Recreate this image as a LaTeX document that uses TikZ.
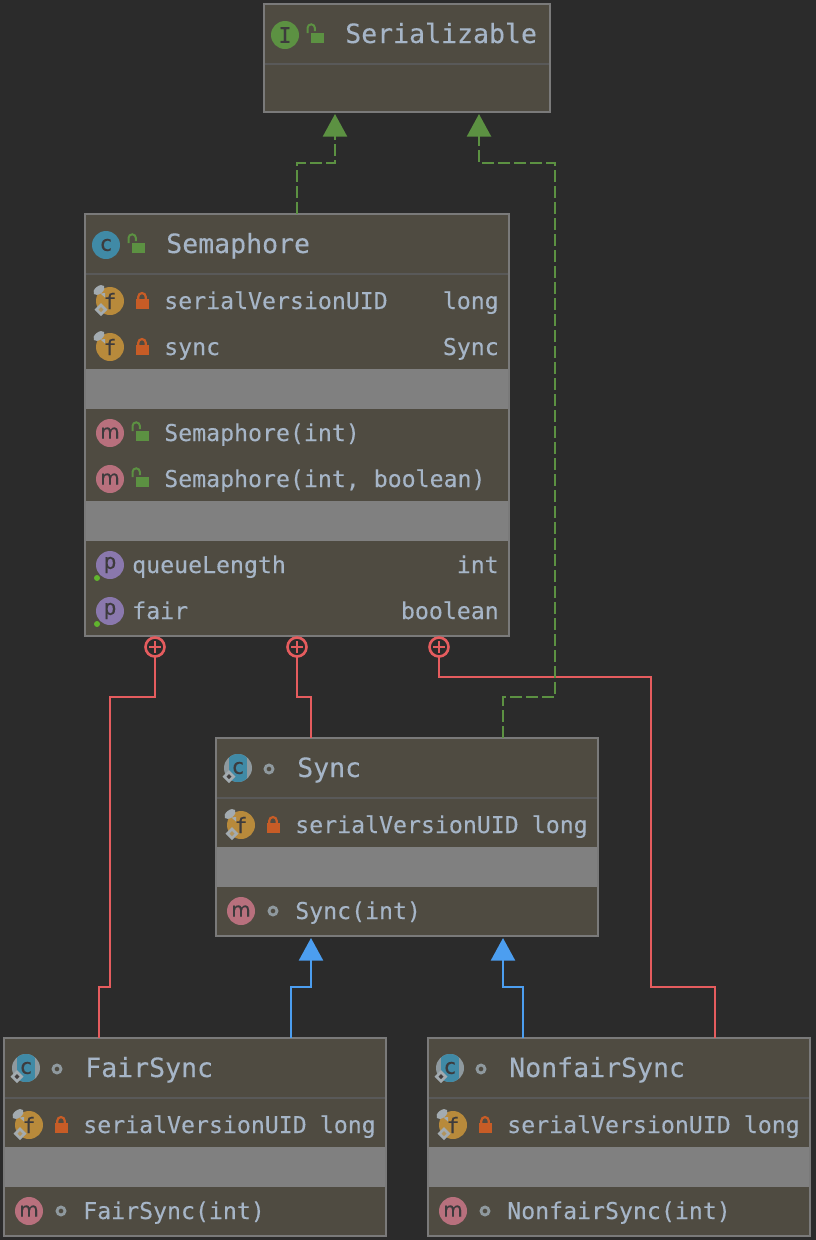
\documentclass[tikz,border=0pt]{standalone}
\usepackage{fontspec}
\setmonofont[FakeBold=0.25]{DejaVu Sans Mono}
\newfontfamily\iconsans[FakeBold=0.25]{DejaVu Sans}
\usetikzlibrary{arrows.meta, shapes.geometric}
\definecolor{bgc}{rgb}{0.169,0.169,0.169}
\definecolor{boxc}{rgb}{0.31,0.294,0.255}
\definecolor{edgec}{rgb}{0.48,0.48,0.48}
\definecolor{bandc}{rgb}{0.5,0.5,0.5}
\definecolor{rulec}{rgb}{0.35,0.35,0.35}
\definecolor{textc}{rgb}{0.65,0.71,0.78}
\definecolor{implc}{rgb}{0.36,0.57,0.26}
\definecolor{nestc}{rgb}{0.9,0.36,0.37}
\definecolor{inhc}{rgb}{0.3,0.62,0.94}
\definecolor{classc}{rgb}{0.25,0.54,0.65}
\definecolor{fieldc}{rgb}{0.72,0.54,0.23}
\definecolor{methc}{rgb}{0.72,0.44,0.49}
\definecolor{propc}{rgb}{0.54,0.47,0.68}
\definecolor{privc}{rgb}{0.78,0.36,0.15}
\definecolor{markc}{rgb}{0.64,0.67,0.69}
\definecolor{ringc}{rgb}{0.56,0.6,0.62}
\definecolor{dotc}{rgb}{0.38,0.71,0.18}
\definecolor{inkc}{rgb}{0.24,0.23,0.24}
\def\px{0.75pt}

% lock with open shackle: name, x, y
\newcommand{\openlock}[3]{
	\node[lockbody, fill=implc] (#1) at (#2,#3) {};
	\draw[implc, line width=2*\px] ([xshift=-3*\px]#1.north west) -- ++(0,-5) arc[start angle=180, end angle=360, radius=3.7] -- ++(0,3);
}
% lock with closed shackle: name, x, y
\newcommand{\shutlock}[3]{
	\node[lockbody, minimum height=10.5*\px, fill=privc] (#1) at (#2,#3) {};
	\draw[privc, line width=2.2*\px] ([xshift=-3.7*\px]#1.north) -- ++(0,-2) arc[start angle=180, end angle=360, radius=3.7] -- ++(0,2);
}
% pin and diamond on an icon
\newcommand{\pinmark}[1]{
	\begin{scope}[shift={(#1.center)}]
		\fill[markc, rotate around={38:(-11,-11)}] (-11,-11) ellipse[x radius=6.5, y radius=3.8];
		\fill[markc] (-9.5,-7.5) -- (-5,-8) -- (-5,-3.5) -- cycle;
	\end{scope}
}
\newcommand{\finalmark}[2]{
	\begin{scope}[shift={(#1.center)}]
		\fill[markc] (-9,2) -- (-2.5,8.5) -- (-9,15) -- (-15.5,8.5) -- cycle;
		\fill[#2] (-9,6) -- (-6.5,8.5) -- (-9,11) -- (-11.5,8.5) -- cycle;
	\end{scope}
}

\begin{document}
\begin{tikzpicture}[
		x=0.75pt, y=-0.75pt,
		umlbox/.style={draw=edgec, fill=boxc, line width=2*\px, rectangle, inner sep=0pt, outer sep=0pt},
		icon/.style={circle, inner sep=0pt, outer sep=0pt, minimum size=28*\px, text=inkc, font=\fontsize{16}{18}\ttfamily},
		methicon/.style={icon, fill=methc, font=\fontsize{15}{18}\iconsans},
		lockbody/.style={rectangle, inner sep=0pt, outer sep=0pt, minimum width=13*\px, minimum height=10*\px},
		ring/.style={circle, draw=ringc, line width=2.8*\px, inner sep=0pt, outer sep=0pt, minimum size=8*\px},
		title/.style={anchor=base west, inner sep=0pt, text=textc, font=\fontsize{19.9}{24}\ttfamily},
		member/.style={anchor=base west, inner sep=0pt, text=textc, font=\fontsize{17.4}{21}\ttfamily},
		memtype/.style={member, anchor=base east},
		band/.style={fill=bandc},
		rowrule/.style={draw=rulec, line width=2*\px},
		implements/.style={draw=implc, line width=2.6*\px, dash pattern=on 9pt off 3pt, -{Triangle[length=17pt, width=18pt]}},
		inherits/.style={draw=inhc, line width=2.6*\px, -{Triangle[length=17pt, width=18pt]}},
		nestline/.style={draw=nestc, line width=2.6*\px},
		nest/.style={circle, draw=nestc, line width=2.6*\px, inner sep=0pt, outer sep=0pt, minimum size=19*\px}
	]
	\fill[bgc] (0,0) rectangle (816,1240);
	\useasboundingbox (0,0) rectangle (816,1240);

	% serializable
	\node[umlbox, minimum width=286*\px, minimum height=108*\px] (serializable) at (407,58) {};
	\draw[rowrule] (265,64) -- (549,64);
	\node[icon, fill=implc] (serializable-icon) at (285,35) {I};
	\openlock{serializable-lock}{317}{38}
	\node[title] (serializable-name) at (345,43) {Serializable};

	% semaphore
	\node[umlbox, minimum width=424*\px, minimum height=422*\px] (semaphore) at (297,425) {};
	\draw[rowrule] (86,274) -- (508,274);
	\fill[band] (86,369) rectangle (508,409);
	\fill[band] (86,501) rectangle (508,541);
	\node[icon, fill=classc] (semaphore-icon) at (106,245) {c};
	\openlock{semaphore-lock}{138}{248}
	\node[title] (semaphore-name) at (166,253) {Semaphore};
	\foreach \n/\t/\y [count=\i] in {serialVersionUID/long/301,sync/Sync/347} {
		\node[icon, fill=fieldc] (semfield-icon-\i) at (110,\y) {f};
		\pinmark{semfield-icon-\i}
		\shutlock{semfield-lock-\i}{142}{\y+3}
		\node[member] (semfield-name-\i) at (164,\y+8) {\n};
		\node[memtype] (semfield-type-\i) at (499,\y+8) {\t};
	}
	\finalmark{semfield-icon-1}{fieldc!70!markc}
	\foreach \n/\y [count=\i] in {{Semaphore(int)}/433,{Semaphore(int, boolean)}/479} {
		\node[methicon] (semmeth-icon-\i) at (110,\y) {m};
		\openlock{semmeth-lock-\i}{142}{\y+3}
		\node[member] (semmeth-name-\i) at (164,\y+8) {\n};
	}
	\foreach \n/\t/\y [count=\i] in {queueLength/int/565,fair/boolean/611} {
		\node[icon, fill=propc] (semprop-icon-\i) at (110,\y) {p};
		\fill[dotc] (97,\y+13) circle[radius=3];
		\node[member] (semprop-name-\i) at (132,\y+8) {\n};
		\node[memtype] (semprop-type-\i) at (499,\y+8) {\t};
	}

	% sync, fairsync, nonfairsync
	\foreach \b/\n/\x/\y in {sync/Sync/407/837,fairsync/FairSync/195/1137,nonfairsync/NonfairSync/619/1137} {
		\node[umlbox, minimum width=382*\px, minimum height=198*\px] (\b) at (\x,\y) {};
		\draw[rowrule] (\x-190,\y-39) -- (\x+190,\y-39);
		\fill[band] (\x-190,\y+10) rectangle (\x+190,\y+50);
		\node[icon, fill=ringc, path picture={\fill[classc] ([xshift=-9*\px]path picture bounding box.north) rectangle ([xshift=9*\px]path picture bounding box.south);}] (\b-icon) at (\x-169,\y-69) {c};
		\finalmark{\b-icon}{inkc!70!boxc}
		\node[ring] (\b-ring) at (\x-138,\y-68) {};
		\node[title] (\b-name) at (\x-110,\y-60) {\n};
		\node[icon, fill=fieldc] (\b-field-icon) at (\x-166,\y-12) {f};
		\pinmark{\b-field-icon}
		\finalmark{\b-field-icon}{fieldc!70!markc}
		\shutlock{\b-field-lock}{\x-134}{\y-9}
		\node[member] (\b-field-name) at (\x-112,\y-4) {serialVersionUID};
		\node[memtype] (\b-field-type) at (\x+181,\y-4) {long};
		\node[methicon] (\b-meth-icon) at (\x-166,\y+74) {m};
		\node[ring] (\b-meth-ring) at (\x-134,\y+74) {};
		\node[member] (\b-meth-name) at (\x-112,\y+82) {\n(int)};
	}

	% inner class markers
	\foreach \s [count=\i] in {-142,0,142} {
		\node[nest] (nest-\i) at ([xshift=\s*\px, yshift=-11*\px]semaphore.south) {};
		\draw[nestline] ([xshift=-6*\px]nest-\i.center) -- ([xshift=6*\px]nest-\i.center);
		\draw[nestline] ([yshift=-6*\px]nest-\i.center) -- ([yshift=6*\px]nest-\i.center);
	}
	\draw[nestline] (nest-1.south) |- ([xshift=-187*\px, yshift=-61*\px]semaphore.south) -- ([xshift=-85*\px, yshift=51*\px]fairsync.north) -| ([xshift=-96*\px]fairsync.north);
	\draw[nestline] (nest-2.south) |- ([xshift=14*\px, yshift=-61*\px]semaphore.south) -- ([xshift=-96*\px]sync.north);
	\draw[nestline] (nest-3.south) |- ([xshift=354*\px, yshift=-41*\px]semaphore.south) -- ([xshift=32*\px, yshift=51*\px]nonfairsync.north) -| ([xshift=96*\px]nonfairsync.north);

	% implements
	\draw[implements] (semaphore.north) -- ++(0,-51) -| ([xshift=-72*\px, yshift=-2*\px]serializable.south);
	\draw[implements] ([xshift=96*\px]sync.north) -- ++(0,-41) -| ([xshift=148*\px, yshift=-51*\px]serializable.south) -| ([xshift=72*\px, yshift=-2*\px]serializable.south);

	% extends
	\draw[inherits] ([xshift=96*\px]fairsync.north) -- ++(0,-51) -| ([xshift=-96*\px, yshift=-2*\px]sync.south);
	\draw[inherits] ([xshift=-96*\px]nonfairsync.north) -- ++(0,-51) -| ([xshift=96*\px, yshift=-2*\px]sync.south);
\end{tikzpicture}
\end{document}
